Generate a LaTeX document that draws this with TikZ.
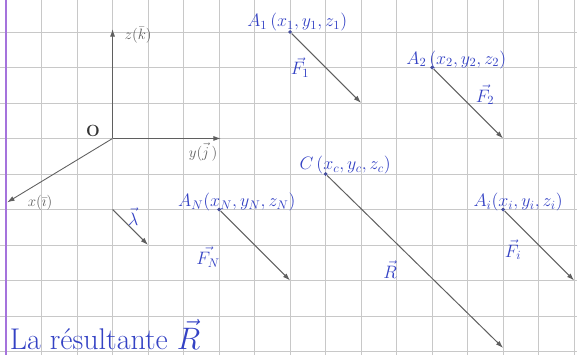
\documentclass[tikz,border=0pt]{standalone}
\usepackage{amsmath}
\usepackage{tikz}
\usetikzlibrary{arrows.meta}

\definecolor{encre}{RGB}{52,66,196}
\definecolor{crayon}{RGB}{95,95,95}
\definecolor{quadrillage}{RGB}{200,200,200}
\definecolor{marge}{RGB}{165,115,220}

\begin{document}
\begin{tikzpicture}[
	quad/.style={draw=quadrillage, line width=0.7pt},
	axe/.style={draw=crayon, line width=0.7pt, -{Latex[length=6pt,width=4pt]}},
	vecteur/.style={draw=crayon, line width=0.8pt, -{Latex[length=6pt,width=4pt]}},
	pt/.style={circle, fill=encre!60!crayon, inner sep=1.1pt},
	lbl/.style={text=encre, font=\fontsize{14}{16}\selectfont, inner sep=0pt},
	lblaxe/.style={text=crayon, font=\fontsize{12}{14}\selectfont, inner sep=0pt}
	]
	\useasboundingbox (-0.17,-0.07) rectangle (16.08,9.9);
	\clip (-0.17,-0.07) rectangle (16.08,9.9);

	% papier
	\draw[quad] (-1,-1) grid (17,11);
	\draw[draw=marge, line width=1.4pt] (0,-1) -- (0,11);

	% repere
	\coordinate (O) at (3,6);
	\coordinate (Z) at (3,9.08);
	\coordinate (Y) at (6.05,6);
	\coordinate (X) at (0.03,4.2);
	\draw[axe] (O) -- (Z);
	\draw[axe] (O) -- (Y);
	\draw[axe] (O) -- (X);
	\node[lblaxe, text=black!80, font=\fontsize{13}{15}\selectfont\bfseries] (lO) at (2.45,6.2) {O};
	\node[lblaxe] (lZ) at (3.72,8.92) {$z(\bar{k})$};
	\node[lblaxe] (lY) at (5.55,5.62) {$y(\vec{j}\,)$};
	\node[lblaxe] (lX) at (0.96,4.2) {$x(\bar{\imath})$};

	% points d'application
	\node[pt] (A1) at (8,9) {};
	\node[pt] (A2) at (12,8) {};
	\node[pt] (C)  at (9,5) {};
	\node[pt] (AN) at (6,4) {};
	\node[pt] (Ai) at (14,4) {};
	\coordinate (L0) at (3,4);
	\coordinate (L1) at (4,3);
	\coordinate (F1) at (10,7);
	\coordinate (F2) at (14,6);
	\coordinate (R)  at (14,0.1);
	\coordinate (FN) at (8,2);
	\coordinate (Fi) at (16,2);

	\draw[vecteur] (A1) -- (F1);
	\draw[vecteur] (A2) -- (F2);
	\draw[vecteur] (C) -- (R);
	\draw[vecteur] (AN) -- (FN);
	\draw[vecteur] (Ai) -- (Fi);
	\draw[vecteur] (L0) -- (L1);

	% etiquettes
	\node[lbl] (lA1) at (8.2,9.28)  {$A_1\,(x_1,y_1,z_1)$};
	\node[lbl] (lA2) at (12.68,8.22) {$A_2\,(x_2,y_2,z_2)$};
	\node[lbl] (lC)  at (9.55,5.25) {$C\,(x_c,y_c,z_c)$};
	\node[lbl] (lAN) at (6.5,4.2)  {$A_N(x_N,y_N,z_N)$};
	\node[lbl] (lAi) at (14.42,4.2) {$A_i(x_i,y_i,z_i)$};
	\node[lbl] (lF1) at (8.28,8.0)  {$\vec{F_1}$};
	\node[lbl] (lF2) at (13.49,7.23) {$\vec{F_2}$};
	\node[lbl] (lR)  at (10.82,2.3) {$\vec{R}$};
	\node[lbl] (lFN) at (5.69,2.66) {$\vec{F_N}$};
	\node[lbl] (lFi) at (14.28,2.86) {$\vec{F_i}$};
	\node[lbl] (lL)  at (3.58,3.8)  {$\vec{\lambda}$};

	\node[lbl, anchor=base west, font=\fontsize{24}{26}\selectfont] (titre) at (0.1,0.05) {La résultante $\vec{R}$};
\end{tikzpicture}
\end{document}
